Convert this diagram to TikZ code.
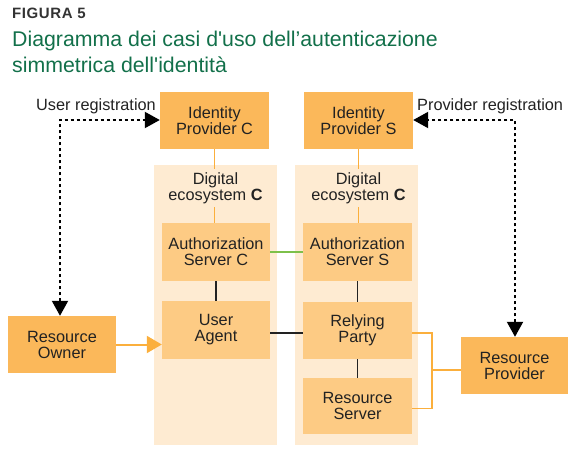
\documentclass[tikz,border=0pt]{standalone}
\usepackage{fontspec}
\setmainfont{Liberation Sans}
\newfontfamily\titlefont{Liberation Sans}
\usetikzlibrary{arrows.meta}
\definecolor{boxdark}{HTML}{FBB85A}
\definecolor{boxlight}{HTML}{FDCB84}
\definecolor{colbg}{HTML}{FEEBD2}
\definecolor{orline}{HTML}{FBAF3C}
\definecolor{grline}{HTML}{7DC04A}
\definecolor{txt}{HTML}{222222}
\definecolor{titlegreen}{HTML}{12704A}
\definecolor{figgray}{HTML}{333333}
\tikzset{
  boxbase/.style={minimum width=108pt, minimum height=57pt, inner sep=0pt, align=center, text=txt,
    font=\fontsize{16.3}{16}\selectfont},
  darkbox/.style={boxbase, fill=boxdark},
  lightbox/.style={boxbase, fill=boxlight},
  colbox/.style={fill=colbg, draw=none},
  blackline/.style={draw=txt, line width=1.5pt},
  orangeline/.style={draw=orline, line width=1.5pt},
  greenline/.style={draw=grline, line width=1.5pt},
  reg/.style={draw=black, line width=2pt, dash pattern=on 3pt off 3pt,
    {Triangle[length=15pt,width=16pt]}-{Triangle[length=15pt,width=16pt]}},
  lbl/.style={inner sep=0pt, text=txt, font=\fontsize{16.3}{16}\selectfont},
  titletext/.style={anchor=base west, inner sep=0pt, text=titlegreen, font=\titlefont\fontsize{21.3}{26}\selectfont},
}
\begin{document}
\begin{tikzpicture}[x=1pt,y=-1pt]
\useasboundingbox (0,0) rectangle (575,452);
% title
\node[anchor=base west, inner sep=0pt, text=figgray] (fig) at (12,18.5)
  {\fontspec{Liberation Sans}[LetterSpace=4]\fontsize{15}{15}\selectfont\bfseries FIGURA 5};
\node[titletext] (t1) at (12,47) {Diagramma dei casi d'uso dell’autenticazione};
\node[titletext] (t2) at (12,73) {simmetrica dell'identità};
% columns
\path[colbox] (154,165) rectangle (277,445);
\path[colbox] (295,165) rectangle (418,445);
% boxes
\node[darkbox, minimum width=109pt] (idpc) at (214.5,120.5) {Identity\\Provider C};
\node[darkbox, minimum width=109pt] (idps) at (358.5,120.5) {Identity\\Provider S};
\node[lightbox, minimum height=58pt] (asc) at (216,252) {Authorization\\Server C};
\node[lightbox, minimum width=109pt, minimum height=58pt] (ass) at (357.5,252) {Authorization\\Server S};
\node[lightbox, minimum height=58pt] (ua) at (216,330) {User\\Agent};
\node[lightbox, minimum width=109pt] (rp) at (357.5,330.5) {Relying\\Party};
\node[lightbox, minimum width=109pt, minimum height=56pt] (rs) at (357.5,406) {Resource\\Server};
\node[darkbox] (ro) at (62,344.5) {Resource\\Owner};
\node[darkbox, minimum width=107pt] (rprov) at (514.5,365.5) {Resource\\Provider};
% connectors
\draw[orangeline] (idpc.south) -- (idpc.south |- asc.north);
\draw[orangeline] (idps.south) -- (idps.south |- ass.north);
\node[lbl, fill=colbg, align=center, inner ysep=3pt, inner xsep=2pt] (ecoc) at (215.5,188) {Digital\\ecosystem \textbf{C}};
\node[lbl, fill=colbg, align=center, inner ysep=3pt, inner xsep=2pt] (ecos) at (358.5,188) {Digital\\ecosystem \textbf{C}};
\draw[greenline] (asc.east) -- (ass.west);
\draw[blackline] (asc.south) -- (ua.north);
\draw[blackline] (ass.south) -- (rp.north);
\draw[blackline] (rp.south) -- (rs.north);
\coordinate (uarp) at (0,333);
\draw[blackline] (ua.east |- uarp) -- (rp.west |- uarp);
\draw[draw=orline, line width=2pt, -{Triangle[length=15pt,width=17pt]}] (ro.east) -- (ua.west |- ro.east);
\coordinate (bt) at (432,333);
\coordinate (bb) at (432,408.5);
\coordinate (bm) at (432,370);
\draw[orangeline] (rp.east |- bt) -- (bt) -- (bb) -- (rs.east |- bb);
\draw[orangeline] (bm) -- (rprov.west |- bm);
% registration
\coordinate (ur) at (60,120);
\coordinate (pr) at (515,120);
\draw[reg] (ro.north -| ur) -- (ur) -- (idpc.west |- ur);
\draw[reg] (rprov.north -| pr) -- (pr) -- (idps.east |- pr);
\node[lbl, anchor=base east] (ulab) at (156,110) {User registration};
\node[lbl, anchor=base west] (plab) at (417,110) {Provider registration};
\end{tikzpicture}
\end{document}
